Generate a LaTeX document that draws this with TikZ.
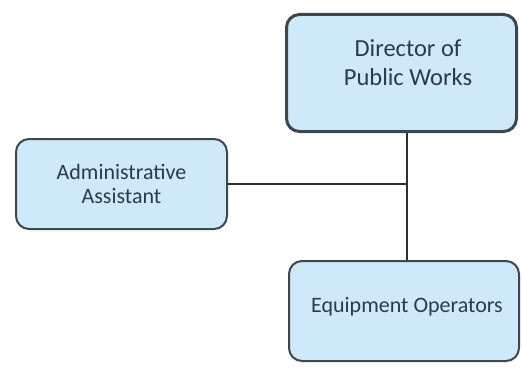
\documentclass[tikz,border=0pt]{standalone}
\usepackage{fontspec}
\setmainfont{Carlito}
\definecolor{boxfill}{HTML}{CDE9FA}
\definecolor{boxline}{HTML}{3F474C}
\definecolor{txt}{HTML}{2A3C4A}
\definecolor{wire}{HTML}{2E2E2E}
\begin{document}
\begin{tikzpicture}[x=1pt,y=-1pt,
  box/.style={draw=boxline, fill=boxfill, rounded corners=13pt, line width=2pt, inner sep=0pt},
  lbl/.style={text=txt, align=center},
  wireline/.style={draw=wire, line width=1.8pt}]
\useasboundingbox (0,0) rectangle (522,369);
\node[box, line width=3pt, minimum width=230pt, minimum height=117pt] (dir) at (401.5,73) {};
\node[lbl, font=\fontsize{24.5}{29}\selectfont] (dirt) at (408,63) {Director of\\Public Works};
\node[box, minimum width=211pt, minimum height=90pt, font=\fontsize{22}{24}\selectfont, lbl] (adm) at (121.5,184) {Administrative\\Assistant};
\node[box, minimum width=230pt, minimum height=100pt] (eq) at (404,311) {};
\node[lbl, font=\fontsize{22}{24}\selectfont, anchor=base] (eqt) at (407,312) {Equipment Operators};
\coordinate (j) at (407,184);
\draw[wireline] (dir.south -| j) -- (eq.north -| j);
\draw[wireline] (adm.east) -- (j);
\end{tikzpicture}
\end{document}
